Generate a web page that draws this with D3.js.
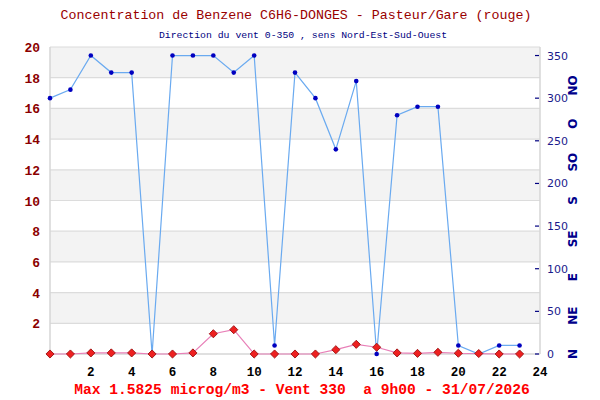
<!DOCTYPE html>
<html>
<head>
<meta charset="utf-8">
<script src="https://cdn.jsdelivr.net/npm/d3@7"></script>
<style>
  body { margin: 0; background: #fff; }
  svg { display: block; }
</style>
</head>
<body>
<svg id="chart" width="600" height="400"></svg>
<script>
// hourly data, 0h .. 23h
const HOURS = d3.range(0, 24);
const BENZENE = [0, 0, 0.07, 0.07, 0.07, 0, 0, 0.07, 1.32, 1.5825, 0, 0, 0, 0, 0.28, 0.63, 0.44, 0.07, 0.04, 0.11, 0.05, 0.03, 0, 0];
const WIND_DIR = [300, 310, 350, 330, 330, 0, 350, 350, 350, 330, 350, 10, 330, 300, 240, 320, 0, 280, 290, 290, 10, 0, 10, 10];

const LEFT_TICKS = [2, 4, 6, 8, 10, 12, 14, 16, 18, 20];
const X_TICKS = [2, 4, 6, 8, 10, 12, 14, 16, 18, 20, 22, 24];
const RIGHT_TICKS = [0, 50, 100, 150, 200, 250, 300, 350];
const COMPASS = ['N', 'NE', 'E', 'SE', 'S', 'SO', 'O', 'NO'];
const COMPASS_DEG = [0, 45, 90, 135, 180, 225, 270, 315];

const TITLE = 'Concentration de Benzene C6H6-DONGES - Pasteur/Gare (rouge)';
const SUBTITLE = 'Direction du vent 0-350 , sens Nord-Est-Sud-Ouest';
const FOOTER = 'Max 1.5825 microg/m3 - Vent 330  a 9h00 - 31/07/2026';

const MONO = '"Liberation Mono", "DejaVu Sans Mono", monospace';

function draw() {
    const svg = d3.select('#chart');
    const left = 50, right = 540, top = 47, bottom = 354;

    const x = d3.scaleLinear().domain([0, 24]).range([left, right]);
    const y = d3.scaleLinear().domain([0, 20]).range([bottom, top]);
    const yWind = d3.scaleLinear().domain([0, 360]).range([bottom, top]);

    // alternating grey bands
    svg.selectAll('rect.band')
        .data([2, 6, 10, 14, 18])
        .enter().append('rect')
            .attr('x', left)
            .attr('y', d => y(d + 2))
            .attr('width', right - left)
            .attr('height', d => y(d) - y(d + 2))
            .style('fill', '#f3f3f3');

    // grid lines
    svg.selectAll('line.grid')
        .data(LEFT_TICKS)
        .enter().append('line')
            .attr('x1', left).attr('x2', right)
            .attr('y1', d => y(d)).attr('y2', d => y(d))
            .style('stroke', '#dcdcdc').style('stroke-width', 1.2);

    // frame lines
    const frame = [[left, top, left, bottom], [right, top, right, bottom], [left, bottom, right, bottom]];
    svg.selectAll('line.frame')
        .data(frame)
        .enter().append('line')
            .attr('x1', d => d[0]).attr('y1', d => d[1])
            .attr('x2', d => d[2]).attr('y2', d => d[3])
            .style('stroke', '#d6d6d6').style('stroke-width', 1.5);

    // left axis labels
    svg.selectAll('text.yl')
        .data(LEFT_TICKS)
        .enter().append('text')
            .attr('x', 40)
            .attr('y', d => y(d) + 5)
            .attr('text-anchor', 'end')
            .style('font-family', MONO).style('font-weight', 'bold').style('font-size', '13px')
            .style('fill', '#8b0000')
            .text(d => d);

    // x axis labels
    svg.selectAll('text.xl')
        .data(X_TICKS)
        .enter().append('text')
            .attr('x', d => x(d))
            .attr('y', 376)
            .attr('text-anchor', 'middle')
            .style('font-family', MONO).style('font-weight', 'bold').style('font-size', '12.5px')
            .style('fill', '#000')
            .text(d => d);

    // right axis
    svg.selectAll('line.rt')
        .data(RIGHT_TICKS)
        .enter().append('line')
            .attr('x1', 535).attr('x2', 539)
            .attr('y1', d => yWind(d)).attr('y2', d => yWind(d))
            .style('stroke', '#000080').style('stroke-width', 1.2);
    svg.selectAll('text.rl')
        .data(RIGHT_TICKS)
        .enter().append('text')
            .attr('x', 547)
            .attr('y', d => yWind(d) + 4)
            .style('font-family', '"DejaVu Sans", sans-serif').style('font-size', '11px')
            .style('fill', '#1a1a8c')
            .text(d => d);

    svg.selectAll('text.compass')
        .data(COMPASS)
        .enter().append('text')
            .attr('transform', (d, i) => `translate(577,${yWind(COMPASS_DEG[i])}) rotate(-90)`)
            .attr('text-anchor', 'middle')
            .style('font-family', '"DejaVu Sans", sans-serif').style('font-weight', 'bold').style('font-size', '12px')
            .style('fill', '#00008b')
            .text(d => d);

    // wind line
    const wind = HOURS.map((h, i) => ({ x: h, y: WIND_DIR[i] }));
    svg.append('path')
        .datum(wind)
        .attr('d', d3.line().x(d => x(d.x)).y(d => yWind(d.y)))
        .style('fill', 'none').style('stroke', '#6aaaf0').style('stroke-width', 1.2);
    svg.selectAll('circle.wind')
        .data(wind)
        .enter().append('circle')
            .attr('cx', d => x(d.x))
            .attr('cy', d => yWind(d.y))
            .attr('r', 2.3)
            .style('fill', '#0000c0');

    // benzene line
    const benz = HOURS.map((h, i) => ({ x: h, y: BENZENE[i] }));
    svg.append('path')
        .datum(benz)
        .attr('d', d3.line().x(d => x(d.x)).y(d => y(d.y)))
        .style('fill', 'none').style('stroke', '#e880b8').style('stroke-width', 1.2);
    svg.selectAll('path.diamond')
        .data(benz)
        .enter().append('path')
            .attr('d', d3.symbol().type(d3.symbolDiamond2).size(42))
            .attr('transform', d => `translate(${x(d.x)},${y(d.y)})`)
            .style('fill', '#ee2020').style('stroke', '#9a1010').style('stroke-width', 0.9);

    // titles
    svg.append('text')
        .attr('x', 296).attr('y', 19)
        .attr('text-anchor', 'middle')
        .style('font-family', MONO).style('font-size', '13.3px')
        .style('fill', '#990000')
        .text(TITLE);
    svg.append('text')
        .attr('x', 303).attr('y', 38)
        .attr('text-anchor', 'middle')
        .style('font-family', MONO).style('font-size', '9.8px')
        .style('fill', '#000080')
        .text(SUBTITLE);
    svg.append('text')
        .attr('x', 302).attr('y', 394)
        .attr('text-anchor', 'middle')
        .attr('xml:space', 'preserve')
        .style('white-space', 'pre')
        .style('font-family', MONO).style('font-weight', 'bold').style('font-size', '14.6px')
        .style('fill', '#ff0000')
        .text(FOOTER);
}

draw();
</script>
</body>
</html>
